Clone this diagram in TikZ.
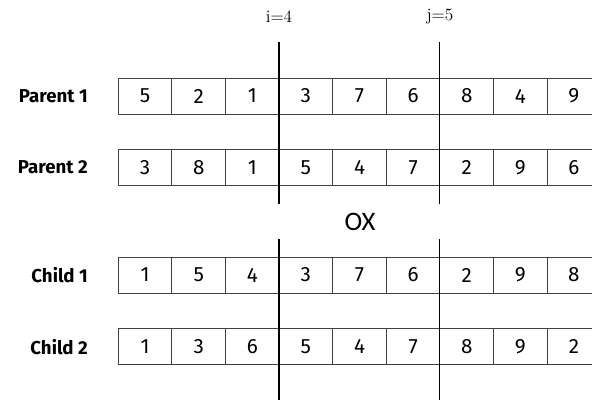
\documentclass[tikz,border=0pt]{standalone}
\usepackage{fontspec}
\setsansfont{Fira Sans}
\newfontfamily\oxfont{Carlito}

\tikzset{
  gene/.style={draw=black!75, line width=0.7pt, minimum width=40.2pt, minimum height=27pt,
    inner sep=0pt, font=\sffamily\fontsize{15.5}{17}\selectfont},
  rowlabel/.style={anchor=east, inner sep=0pt, font=\sffamily\bfseries\fontsize{14}{16}\selectfont},
  cutline/.style={line width=1.1pt},
}

\begin{document}
\begin{tikzpicture}[x=0.75pt, y=-0.75pt]

  \useasboundingbox (0,0) rectangle (592,403);

  % Rows of genes: name / y centre / label / values
  \foreach \row/\ypos/\lbl/\genes in {
      p1/96/Parent 1/{5,2,1,3,7,6,8,4,9},
      p2/167.5/Parent 2/{3,8,1,5,4,7,2,9,6},
      c1/275/Child 1/{1,5,4,3,7,6,2,9,8},
      c2/346.7/Child 2/{1,3,6,5,4,7,8,9,2}} {
    \node[rowlabel] (\row-name) at (88,\ypos) {\lbl};
    \foreach \g [count=\k] in \genes
      \node[gene] (\row-\k) at ({118.3+53.6*(\k-0.5)},\ypos) {\g};
  }

  % Cut points
  \coordinate (cutA-top) at (279,42);
  \coordinate (cutA-mid) at (279,204);
  \coordinate (cutB-top) at (439.5,42);
  \coordinate (cutB-mid) at (439.5,204);
  \coordinate (cutA-low) at (279,239);
  \coordinate (cutA-bot) at (279,400);
  \coordinate (cutB-low) at (439.5,239);
  \coordinate (cutB-bot) at (439.5,400);

  \draw[cutline] (cutA-top) -- (cutA-mid);
  \draw[cutline] (cutB-top) -- (cutB-mid);
  \draw[cutline] (cutA-low) -- (cutA-bot);
  \draw[cutline] (cutB-low) -- (cutB-bot);

  % Labels
  \node[font=\rmfamily\fontsize{13}{15}\selectfont] (ilabel) at (279,17) {i=4};
  \node[font=\rmfamily\fontsize{13}{15}\selectfont] (jlabel) at (440,17) {j=5};
  \node[font=\oxfont\fontsize{20}{22}\selectfont] (ox) at (360,222) {OX};

\end{tikzpicture}
\end{document}
